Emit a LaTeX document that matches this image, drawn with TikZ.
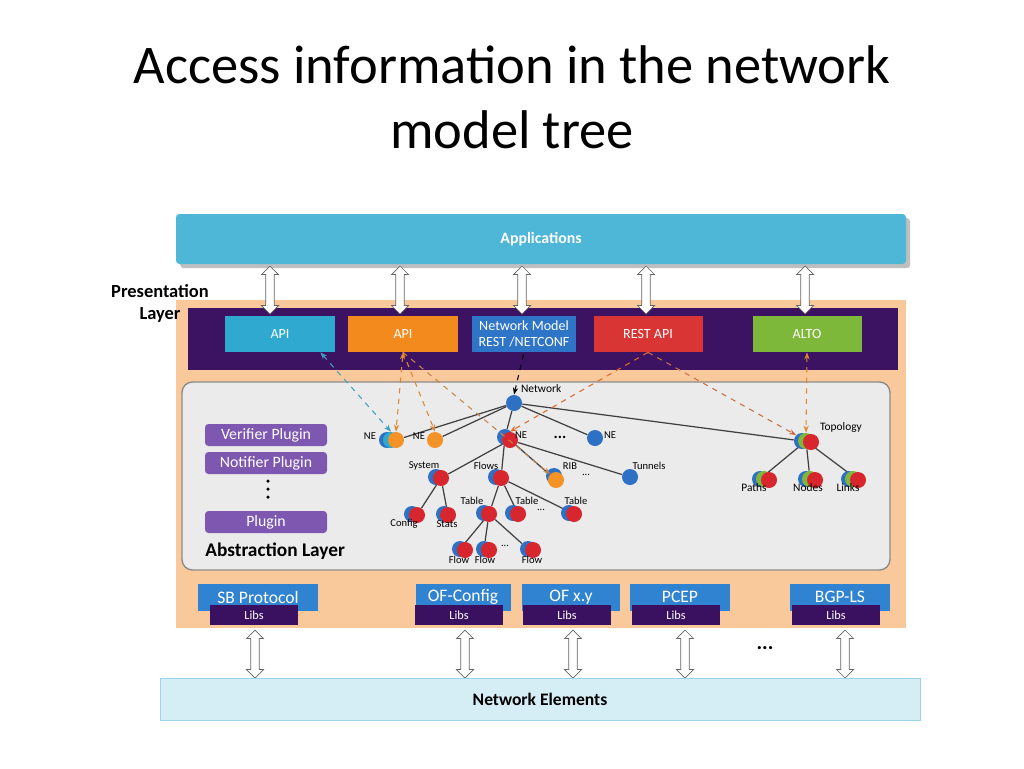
\documentclass[tikz,border=0pt]{standalone}
\usepackage{fontspec}
\setmainfont{Carlito}
\usetikzlibrary{shapes.arrows,arrows.meta,shadows}
\pgfdeclarelayer{bg}\pgfdeclarelayer{edgel}
\pgfsetlayers{bg,edgel,main}
\definecolor{peach}{HTML}{F9C89B}
\definecolor{purp}{HTML}{3C1262}
\definecolor{plug}{HTML}{7E57B0}
\definecolor{cy}{HTML}{2FA9CF}
\definecolor{orng}{HTML}{F28A1E}
\definecolor{nblue}{HTML}{2E75C8}
\definecolor{rred}{HTML}{D93535}
\definecolor{grn}{HTML}{7DB83A}
\definecolor{sbb}{HTML}{2F83D0}
\definecolor{libb}{HTML}{3A1060}
\definecolor{ball}{HTML}{2E70C4}
\definecolor{rball}{HTML}{D8262E}
\definecolor{oball}{HTML}{F39327}
\begin{document}
\begin{tikzpicture}[x=0.02cm,y=-0.02cm,
  box/.style={draw=none,minimum width=#1*0.02cm,minimum height=36*0.02cm,text=white,font=\fontsize{8}{9}\selectfont,align=center,inner sep=0pt},
  bot/.style={fill=sbb,minimum width=#1*0.02cm,minimum height=27*0.02cm,text=white,font=\fontsize{10}{11}\selectfont,inner sep=0pt},
  lib/.style={fill=libb,minimum width=88*0.02cm,minimum height=20*0.02cm,text=white,font=\fontsize{7}{8}\selectfont,inner sep=0pt},
  plg/.style={fill=plug,rounded corners=2pt,minimum width=122*0.02cm,minimum height=22*0.02cm,text=white,font=\fontsize{9}{10}\selectfont,inner sep=0pt},
  darr/.style={double arrow,fill=white,draw=gray!80!black,rotate=90,minimum height=48*0.02cm,minimum width=17*0.02cm,double arrow head extend=1.5pt,inner sep=1.3pt},
  bb/.style={circle,fill=ball,minimum size=16*0.02cm,inner sep=0pt},
  rb/.style={circle,fill=rball,minimum size=16*0.02cm,inner sep=0pt},
  ob/.style={circle,fill=oball,minimum size=16*0.02cm,inner sep=0pt},
  gb/.style={circle,fill=grn,minimum size=16*0.02cm,inner sep=0pt},
  lab/.style={font=\fontsize{6}{7}\selectfont,inner sep=1pt},
  edge/.style={draw=black!75,line width=0.7pt},
  da/.style={dashed,-{Stealth[length=4pt]},line width=0.6pt},
  dots/.style={font=\bfseries\fontsize{9}{9}\selectfont},
  dot/.style={circle,fill=black,minimum size=3.5*0.02cm,inner sep=0pt}]
\useasboundingbox (0,0) rectangle (1024,768);
\begin{pgfonlayer}{bg}
\fill[white] (0,0) rectangle (1024,768);
\end{pgfonlayer}
\node[font=\fontsize{31}{37}\selectfont,align=center] (title) at (512,97) {Access information in the network\\model tree};
% applications
\node[fill=cy!85!white,minimum width=730*0.02cm,minimum height=50*0.02cm,inner sep=0pt,text=white,font=\bfseries\fontsize{9}{10}\selectfont,rounded corners=2pt,drop shadow] (apps) at (541,239) {Applications};
\begin{pgfonlayer}{bg}
\fill[peach] (176,300) rectangle (906,628);
\end{pgfonlayer}
\node[fill=purp,minimum width=710*0.02cm,minimum height=62*0.02cm,inner sep=0pt] (pbar) at (543,339) {};
\node[font=\bfseries\fontsize{10.5}{12.5}\selectfont,align=center,inner sep=0pt] (pres) at (160,303) {Presentation\\Layer};
\node[box=110,fill=cy] (api1) at (280,334) {API};
\node[box=110,fill=orng] (api2) at (403,334) {API};
\node[box=104,fill=nblue] (nm) at (524,334) {Network Model\\REST /NETCONF};
\node[box=109,fill=rred] (rest) at (648,334) {REST API};
\node[box=109,fill=grn] (alto) at (807,334) {ALTO};
\foreach \x/\n in {270/a1,400/a2,522/a3,646/a4,805/a5} \node[darr] (\n) at (\x,290) {};
% abstraction
\begin{pgfonlayer}{bg}
\node[fill=black!8,draw=black!45,line width=0.8pt,rounded corners=6pt,minimum width=708*0.02cm,minimum height=188*0.02cm,inner sep=0pt] (abs) at (536,476) {};
\end{pgfonlayer}
\node[plg] (ver) at (266,435) {Verifier Plugin};
\node[plg] (not) at (266,463) {Notifier Plugin};
\node[dot] (v1) at (268,481) {};
\node[dot] (v2) at (268,489) {};
\node[dot] (v3) at (268,497) {};
\node[plg] (plu) at (266,522) {Plugin};
\node[font=\bfseries\fontsize{11}{12}\selectfont,anchor=west,inner sep=0pt] (absl) at (205,551) {Abstraction Layer};
% tree nodes
\node[bb] (net) at (514,403) {};
\node[bb] (ne1b) at (387,440) {}; \node[circle,fill=cy,minimum size=16*0.02cm,inner sep=0pt] (ne1c) at (391,440) {}; \node[ob] (ne1) at (396,440) {};
\node[ob] (ne2) at (435,440) {};
\node[bb] (ne3b) at (505,437) {}; \node[rb] (ne3) at (510,440) {};
\node[bb] (ne4) at (595,438) {};
\node[bb] (topb) at (802,441) {}; \node[gb] (topg) at (806,441) {}; \node[rb] (top) at (811,442) {};
\node[bb] (sysb) at (436,477) {}; \node[rb] (sys) at (441,478) {};
\node[bb] (flob) at (496,477) {}; \node[rb] (flo) at (501,478) {};
\node[bb] (ribb) at (554,476) {}; \node[ob] (rib) at (556,480) {};
\node[bb] (tun) at (630,477) {};
\node[bb] (cfgb) at (412,514) {}; \node[rb] (cfg) at (417,515) {};
\node[bb] (stab) at (444,514) {}; \node[rb] (sta) at (448,515) {};
\node[bb] (t1b) at (484,513) {}; \node[rb] (t1) at (489,514) {};
\node[bb] (t2b) at (513,513) {}; \node[rb] (t2) at (518,514) {};
\node[bb] (t3b) at (569,513) {}; \node[rb] (t3) at (574,514) {};
\node[bb] (f1b) at (460,549) {}; \node[rb] (f1) at (465,550) {};
\node[bb] (f2b) at (484,549) {}; \node[rb] (f2) at (489,550) {};
\node[bb] (f3b) at (528,549) {}; \node[rb] (f3) at (533,550) {};
\foreach \x/\n in {760/pa,806/no,849/li}{
  \node[bb] (\n b) at (\x,479) {}; \node[gb] (\n g) at (\x+4,479) {}; \node[rb] (\n) at (\x+9,480) {};}
% edges
\begin{pgfonlayer}{edgel}
\foreach \a/\b in {net/ne1,net/ne2,net/ne3b,net/ne4,net/topb,ne3/sys,ne3b/flo,ne3/rib,ne3/tun,sys/cfg,sys/sta,flo/t1,flo/t2,flo/t3,t1/f1b,t1/f2b,t1/f3b,topg/pab,topg/nog,topg/li}
  \draw[edge] (\a) -- (\b);
\end{pgfonlayer}
% labels
\node[lab,anchor=south west,font=\fontsize{6.5}{7}\selectfont] (lnet) at (519,395) {Network};
\node[lab,anchor=east] (lne1) at (378,436) {NE};
\node[lab,anchor=east] (lne2) at (427,436) {NE};
\node[lab,anchor=west] (lne3) at (513,435) {NE};
\node[dots] (d1) at (560,437) {...};
\node[lab,anchor=west] (lne4) at (602,435) {NE};
\node[lab,anchor=west,font=\fontsize{6.5}{7}\selectfont] (ltop) at (818,428) {Topology};
\node[lab] (lsys) at (424,466) {System};
\node[lab] (lflo) at (486,466) {Flows};
\node[lab] (lrib) at (570,466) {RIB};
\node[lab] (d2) at (586,475) {...};
\node[lab] (ltun) at (649,466) {Tunnels};
\node[lab] (lt1) at (472,501) {Table};
\node[lab] (lt2) at (527,501) {Table};
\node[lab] (lt3) at (576,501) {Table};
\node[lab] (d3) at (541,510) {...};
\node[lab] (lcfg) at (404,524) {Config};
\node[lab] (lsta) at (447,524) {Stats};
\node[lab] (lf1) at (459,560) {Flow};
\node[lab] (lf2) at (485,560) {Flow};
\node[lab] (lf3) at (532,560) {Flow};
\node[lab] (d4) at (505,546) {...};
\node[lab,font=\fontsize{6.5}{7}\selectfont] (lpa) at (754,488) {Paths};
\node[lab,font=\fontsize{6.5}{7}\selectfont] (lno) at (808,488) {Nodes};
\node[lab,font=\fontsize{6.5}{7}\selectfont] (lli) at (848,488) {Links};
% dashed arrows
\draw[da,black,{Stealth[length=4pt]}-] (net.north) -- (nm.south);
\draw[da,cy!80!gray,{Stealth[length=4pt]}-{Stealth[length=4pt]}] (api1.south east) ++(-15,0) coordinate (c1) -- (ne1c.north);
\draw[da,orng!80!gray,{Stealth[length=4pt]}-{Stealth[length=4pt]}] (api2.south) -- (ne1.north);
\draw[da,orng!80!gray] (api2.south) -- (ne2.north);
\draw[da,orng!60!gray] (api2.south) -- (rib.north west);
\draw[da,rred!40!orng] (rest.south) -- (ne3.north);
\draw[da,rred!40!orng!70!gray] (rest.south) -- (topb.north west);
\draw[da,orng!80!gray,{Stealth[length=4pt]}-{Stealth[length=4pt]}] (alto.south) -- (topg.north);
% bottom
\foreach \x/\w/\t/\n in {258/120/SB Protocol/sb,463/95/OF-Config/ofc,571/98/OF x.y/ofx,680/100/PCEP/pcep,840/100/BGP-LS/bgp}{
  \node[bot=\w] (\n) at (\x,597) {\t};
  \node[lib] (\n l) at (\x-4,615) {Libs};}
\foreach \x/\n in {255/b1,465/b2,573/b3,685/b4,845/b5} \node[darr] (\n) at (\x,654) {};
\node[font=\bfseries\fontsize{12}{12}\selectfont] (d5) at (765,648) {...};
\node[fill=cy!20!white,draw=cy!50!white,minimum width=760*0.02cm,minimum height=42*0.02cm,inner sep=0pt,font=\bfseries\fontsize{10}{11}\selectfont] (nel) at (540,699) {Network Elements};
\end{tikzpicture}
\end{document}
